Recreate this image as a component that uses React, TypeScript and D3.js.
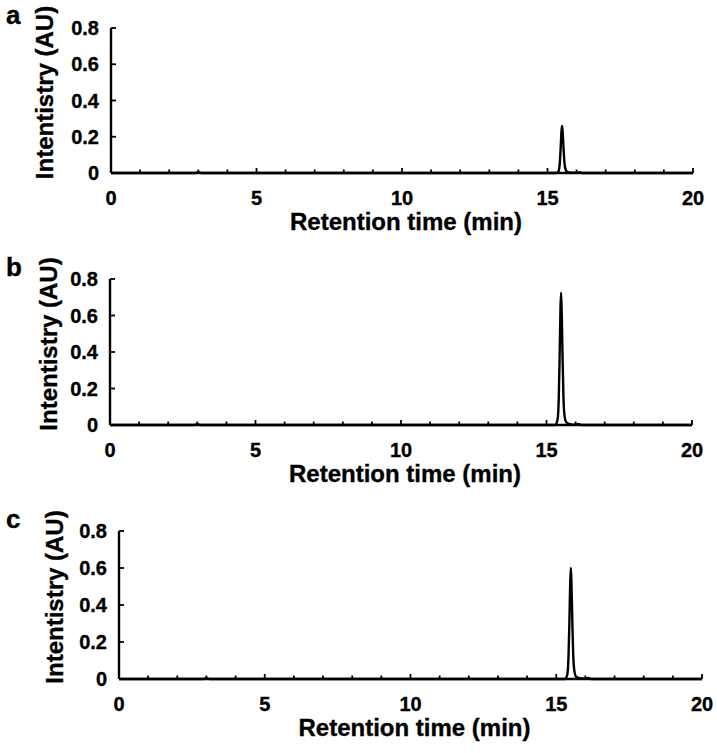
import React from "react";
import * as d3 from "d3";

const PANEL_LABELS = ["a", "b", "c"];
const X_TICKS = [0, 5, 10, 15, 20];
const X_MINOR = [1, 2, 3, 4, 6, 7, 8, 9, 11, 12, 13, 14, 16, 17, 18, 19];
const Y_TICKS = [0, 0.2, 0.4, 0.6, 0.8];
const X_TITLE = "Retention time (min)";
const Y_TITLE = "Intentistry (AU)";

const TIME = [0, 2.9, 3.0, 3.1, 8, 15.0, 15.3, 15.38, 15.42, 15.45, 15.48, 15.5, 15.52, 15.55, 15.58, 15.62, 15.68, 15.8, 16.0, 16.1, 16.2, 20];
const SERIES_A = [0, 0, 0.006, 0, 0, 0, 0, 0.01, 0.05, 0.13, 0.23, 0.26, 0.23, 0.14, 0.06, 0.02, 0.006, 0.002, 0.001, 0.004, 0, 0];
const SERIES_B = [0, 0, 0.006, 0, 0, 0, 0, 0.03, 0.14, 0.36, 0.64, 0.725, 0.64, 0.39, 0.17, 0.05, 0.015, 0.005, 0.002, 0.006, 0, 0];
const SERIES_C = [0, 0, 0.006, 0, 0, 0, 0, 0.025, 0.12, 0.3, 0.53, 0.6, 0.53, 0.32, 0.14, 0.045, 0.012, 0.004, 0.002, 0.006, 0, 0];

const SERIES = [SERIES_A, SERIES_B, SERIES_C];

const LAYOUT = [
  { left: 111, right: 693, top: 28, bottom: 173, labelY: 24, yTitleX: 53 },
  { left: 110, right: 692, top: 279, bottom: 425, labelY: 276, yTitleX: 57 },
  { left: 119, right: 702, top: 531, bottom: 679, labelY: 528, yTitleX: 63 },
];

const FONT = "'Liberation Sans', Arial, sans-serif";
const TXT = { fontFamily: FONT, fontWeight: "bold" as const, stroke: "#000", strokeWidth: 0.35 };

function Panel({ idx }: { idx: number }) {
  const L = LAYOUT[idx];
  const x = d3.scaleLinear().domain([0, 20]).range([L.left, L.right]);
  const y = d3.scaleLinear().domain([0, 0.8]).range([L.bottom, L.top]);
  const pts = TIME.map((t, i) => [t, SERIES[idx][i]] as [number, number]);
  const line = d3
    .line<[number, number]>()
    .x((d) => x(d[0]))
    .y((d) => y(d[1]))
    .curve(d3.curveMonotoneX);
  const cx = (L.left + L.right) / 2;
  const cy = (L.top + L.bottom) / 2;
  return (
    <g>
      <text x={6} y={L.labelY} {...TXT} fontSize={26}>
        {PANEL_LABELS[idx]}
      </text>
      <path d={line(pts) || ""} fill="none" stroke="#000" strokeWidth={2.4} strokeLinejoin="round" />
      <line x1={L.left} x2={L.right} y1={L.bottom} y2={L.bottom} stroke="#000" strokeWidth={2.4} />
      <line x1={L.left} x2={L.left} y1={L.top} y2={L.bottom} stroke="#000" strokeWidth={2.4} />
      {X_MINOR.map((t) => (
        <line key={"m" + t} x1={x(t)} x2={x(t)} y1={L.bottom} y2={L.bottom - 3.5} stroke="#000" strokeWidth={1.8} />
      ))}
      {X_TICKS.map((t) => (
        <g key={"x" + t}>
          {t > 0 && <line x1={x(t)} x2={x(t)} y1={L.bottom} y2={L.bottom - 5} stroke="#000" strokeWidth={1.8} />}
          <text x={x(t)} y={L.bottom + 32} textAnchor="middle" {...TXT} fontSize={20}>
            {String(t)}
          </text>
        </g>
      ))}
      {Y_TICKS.map((v) => (
        <g key={"y" + v}>
          {v > 0 && <line x1={L.left} x2={L.left + 5} y1={y(v)} y2={y(v)} stroke="#000" strokeWidth={1.8} />}
          <text x={L.left - 12} y={y(v)} dy="0.36em" textAnchor="end" {...TXT} fontSize={20}>
            {v === 0 ? "0" : v.toFixed(1)}
          </text>
        </g>
      ))}
      <text x={cx + 4} y={L.bottom + 57} textAnchor="middle" {...TXT} fontSize={24}>
        {X_TITLE}
      </text>
      <text
        transform={`translate(${L.yTitleX},${cy - 8}) rotate(-90)`}
        textAnchor="middle"
        {...TXT}
        fontSize={24}
      >
        {Y_TITLE}
      </text>
    </g>
  );
}

export default function App() {
  return (
    <svg width={717} height={753} style={{ position: "absolute", left: 0, top: 0, background: "#fff" }}>
      <rect width={717} height={753} fill="#fff" />
      {[0, 1, 2].map((i) => (
        <Panel key={i} idx={i} />
      ))}
    </svg>
  );
}
